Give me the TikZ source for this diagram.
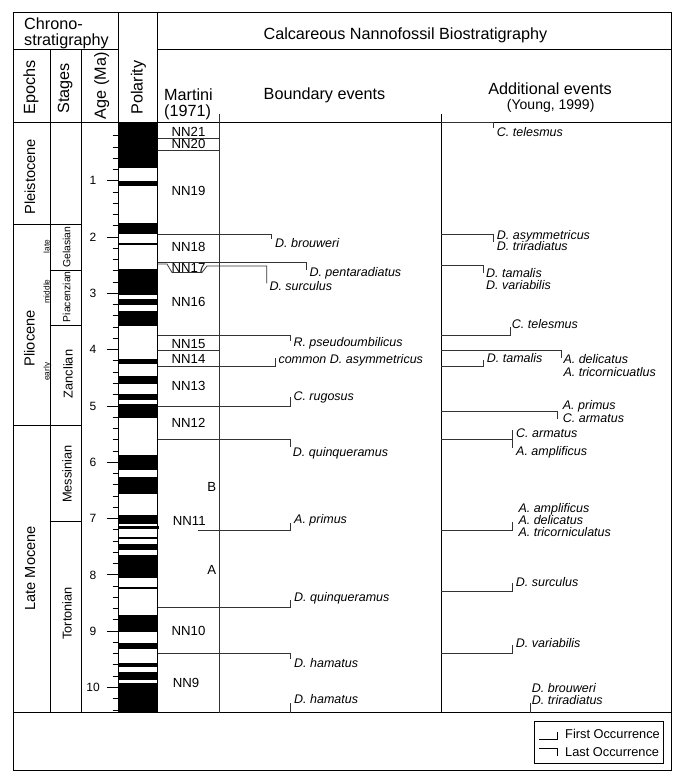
\documentclass[tikz,border=0pt]{standalone}
\usepackage{fontspec}
\setmainfont{Liberation Sans}
\begin{document}
\begin{tikzpicture}[x=1pt,y=-1pt,
  frame/.style={line width=1pt,black},
  evline/.style={line width=0.75pt,black!80},
  hdr/.style={font=\fontsize{16.2}{18}\selectfont,inner sep=0pt,text height=11.6pt,text depth=0pt},
  hdrs/.style={font=\fontsize{14}{16}\selectfont,inner sep=0pt,text height=10pt,text depth=0pt},
  epoch/.style={font=\fontsize{14.6}{16}\selectfont,inner sep=0pt,rotate=90,text height=10.4pt,text depth=0pt},
  stage/.style={font=\fontsize{12.8}{14}\selectfont,inner sep=0pt,rotate=90,text height=9.2pt,text depth=0pt},
  sstage/.style={font=\fontsize{10.4}{12}\selectfont,inner sep=0pt,rotate=90,text height=7.4pt,text depth=0pt},
  subep/.style={font=\fontsize{8.3}{10}\selectfont,inner sep=0pt,rotate=90,text height=6pt,text depth=0pt},
  zone/.style={font=\fontsize{13.2}{15}\selectfont,inner sep=0pt,text height=9.4pt,text depth=0pt},
  num/.style={font=\fontsize{12}{14}\selectfont,inner sep=0pt,text height=8.6pt,text depth=0pt},
  lab/.style={font=\fontsize{12.5}{14}\selectfont\itshape,inner sep=0pt,anchor=west,text height=9pt,text depth=0pt},
  leg/.style={font=\fontsize{12.8}{14}\selectfont,inner sep=0pt,anchor=west,text height=9.2pt,text depth=0pt}
]
\useasboundingbox (0,0) rectangle (681,775);

% ---------- polarity bands ----------
\foreach \a/\b in {122.5/168.3,180.7/186,223.3/234,243.3/245.3,269/295,299/305,311/326,
  359.3/364,375.7/384,393.7/399.7,404/418.3,455.3/470,477.3/494,515/524,537.3/539.3,
  544/550,555/577.7,587.3/589,615/632.3,643.3/648.7,663.3/666.7,671.7/680,683.3/712.5}
  \fill[black] (118.3,\a) rectangle (157.7,\b);
\fill[black] (118.3,526) rectangle (159.3,528.7);

% ---------- frame ----------
\draw[frame] (13.3,12.3) rectangle (671.7,770.7);
\draw[frame] (13.3,50) -- (118.3,50);
\draw[frame] (157.7,50) -- (671.7,50);
\draw[frame] (13.3,122.5) -- (671.7,122.5);
\draw[frame] (13.3,712.5) -- (671.7,712.5);
\draw[frame] (50.7,50) -- (50.7,712.5);
\draw[frame] (81.7,50) -- (81.7,712.5);
\draw[frame] (118.3,12.3) -- (118.3,712.5);
\draw[frame] (157.7,12.3) -- (157.7,712.5);
\draw[evline] (219,114) -- (219,712.5);
\draw[frame] (441,114) -- (441,712.5);
% epoch / stage boundaries
\draw[frame] (13.3,225) -- (81.7,225);
\draw[frame] (13.3,425) -- (81.7,425);
\draw[frame] (50.7,270) -- (81.7,270);
\draw[frame] (50.7,325) -- (81.7,325);
\draw[frame] (50.7,521) -- (81.7,521);

% ---------- headers ----------
\node[hdr,anchor=west] (chr1) at (24,24) {Chrono-};
\node[hdr,anchor=west] (chr2) at (24,39.3) {stratigraphy};
\node[hdr,rotate=90] (hEp) at (29.3,87.5) {Epochs};
\node[hdr,rotate=90] (hSt) at (63.3,88.3) {Stages};
\node[hdr,rotate=90] (hAge) at (100,85.8) {Age (Ma)};
\node[hdr,rotate=90] (hPol) at (136.7,87.5) {Polarity};
\node[hdr] (hCal) at (405.4,33.6) {Calcareous Nannofossil Biostratigraphy};
\node[hdr,anchor=west] (hMar) at (164,94.6) {Martini};
\node[hdr,anchor=west] (hMarY) at (164,111) {(1971)};
\node[hdr] (hBnd) at (324.5,93.3) {Boundary events};
\node[hdr] (hAdd) at (550,89) {Additional events};
\node[hdrs] (hYou) at (550.7,104.7) {(Young, 1999)};

% ---------- epochs and stages ----------
\node[epoch] (ePle) at (30,176.7) {Pleistocene};
\node[epoch] (ePli) at (29.5,338.3) {Pliocene};
\node[epoch] (eLM) at (30,568.3) {Late Mocene};
\node[subep] (sLate) at (46.7,246.7) {late};
\node[subep] (sMid) at (46.7,291.7) {middle};
\node[subep] (sEarly) at (46.7,371.7) {early};
\node[sstage] (stGel) at (66.7,247.3) {Gelasian};
\node[sstage] (stPia) at (66.7,296.7) {Piacenzian};
\node[stage] (stZan) at (68,374) {Zanclian};
\node[stage] (stMes) at (67,474) {Messinian};
\node[stage] (stTor) at (67,613.3) {Tortonian};

% ---------- age scale ----------
\foreach \i in {1,...,52}{
  \pgfmathsetmacro\yy{124.4+11.26*\i}
  \pgfmathtruncatemacro\m{mod(\i,5)}
  \ifnum\m=0
    \draw[line width=0.8pt] (106.7,\yy) -- (118.3,\yy);
  \else
    \draw[line width=0.8pt] (112.7,\yy) -- (118.3,\yy);
  \fi
}
\foreach \k in {1,...,10}
  \node[num] (age\k) at (93,{124.4+56.3*\k}) {\k};

% ---------- Martini zones ----------
\node[zone] (z21) at (188.5,131.7) {NN21};
\node[zone] (z20) at (188.5,144.3) {NN20};
\node[zone] (z19) at (188.5,191) {NN19};
\node[zone] (z18) at (188.5,247.3) {NN18};
\node[zone] (z17) at (188.5,268) {NN17};
\node[zone] (z16) at (188.5,301.7) {NN16};
\node[zone] (z15) at (188.5,343.3) {NN15};
\node[zone] (z14) at (188.5,358.3) {NN14};
\node[zone] (z13) at (188.5,386) {NN13};
\node[zone] (z12) at (188.5,422.7) {NN12};
\node[zone] (zB) at (211.7,486.7) {B};
\node[zone] (z11) at (189.3,520.7) {NN11};
\node[zone] (zA) at (211.7,570) {A};
\node[zone] (z10) at (188.5,631) {NN10};
\node[zone] (z9) at (186,682.3) {NN9};

% ---------- boundary events ----------
\draw[evline] (157.7,138.3) -- (219,138.3);
\draw[evline] (157.7,150) -- (219,150);
\draw[evline] (157.7,234.3) -- (271.7,234.3) -- (271.7,239.5);
\draw[evline] (157.7,262) -- (306.7,262) -- (306.7,269.5);
\draw[evline] (157.7,264) -- (167,264) -- (172,272.5) -- (202,272.5) -- (207,266) -- (266.7,266) -- (266.7,283.3);
\draw[evline] (157.7,335.7) -- (290,335.7) -- (290,340.5);
\draw[evline] (157.7,350) -- (219,350);
\draw[evline] (157.7,366) -- (275,366) -- (275,358.3);
\draw[evline] (157.7,406) -- (290,406) -- (290,397.3);
\draw[evline] (157.7,439.3) -- (290,439.3) -- (290,446.7);
\draw[evline] (198.3,530) -- (290,530) -- (290,523.3);
\draw[evline] (157.7,607.3) -- (290,607.3) -- (290,600);
\draw[evline] (157.7,653.3) -- (290,653.3) -- (290,659.3);
\draw[evline] (290,712.5) -- (290,703.3);

\node[lab] (b1) at (275,242.7) {D. brouweri};
\node[lab] (b2) at (309.3,271.7) {D. pentaradiatus};
\node[lab] (b3) at (269.3,285.7) {D. surculus};
\node[lab] (b4) at (293.3,342.3) {R. pseudoumbilicus};
\node[lab] (b5) at (278.3,358.7) {common D. asymmetricus};
\node[lab] (b6) at (293.3,395.7) {C. rugosus};
\node[lab] (b7) at (292.7,451.7) {D. quinqueramus};
\node[lab] (b8) at (294,519) {A. primus};
\node[lab] (b9) at (294,597.3) {D. quinqueramus};
\node[lab] (b10) at (294,663.3) {D. hamatus};
\node[lab] (b11) at (294,699.3) {D. hamatus};

% ---------- additional events ----------
\draw[evline] (441,122.5) -- (493.3,122.5) -- (493.3,128);
\draw[evline] (441,234.3) -- (493.3,234.3) -- (493.3,241.7);
\draw[evline] (441,265.7) -- (483.3,265.7) -- (483.3,273.3);
\draw[evline] (441,335.7) -- (510,335.7) -- (510,327.3);
\draw[evline] (441,350) -- (561,350) -- (561,358.3);
\draw[evline] (441,366) -- (483.3,366) -- (483.3,360);
\draw[evline] (441,411.7) -- (557.7,411.7) -- (557.7,418.5);
\draw[evline] (441,439.3) -- (512.3,439.3);
\draw[evline] (512.3,430) -- (512.3,448.3);
\draw[evline] (441,530) -- (512.3,530) -- (512.3,521.7);
\draw[evline] (441,591.7) -- (512.3,591.7) -- (512.3,583.3);
\draw[evline] (441,653.3) -- (512.3,653.3) -- (512.3,645);
\draw[evline] (530,712.5) -- (530,703.3);

\node[lab] (a1) at (496.7,132.3) {C. telesmus};
\node[lab] (a2) at (496.7,235) {D. asymmetricus};
\node[lab] (a3) at (496.7,246.3) {D. triradiatus};
\node[lab] (a4) at (486,273.3) {D. tamalis};
\node[lab] (a5) at (486,284.6) {D. variabilis};
\node[lab] (a6) at (511.7,324) {C. telesmus};
\node[lab] (a7) at (563.3,359.3) {A. delicatus};
\node[lab] (a8) at (563.3,372) {A. tricornicuatlus};
\node[lab] (a9) at (486.7,358.3) {D. tamalis};
\node[lab] (a10) at (562.7,405) {A. primus};
\node[lab] (a11) at (562.7,417.5) {C. armatus};
\node[lab] (a12) at (516,432.7) {C. armatus};
\node[lab] (a13) at (516,450.7) {A. amplificus};
\node[lab] (a14) at (518.3,508) {A. amplificus};
\node[lab] (a15) at (518.3,520) {A. delicatus};
\node[lab] (a16) at (518.3,532) {A. tricorniculatus};
\node[lab] (a17) at (515.7,582.3) {D. surculus};
\node[lab] (a18) at (515.7,642.7) {D. variabilis};
\node[lab] (a19) at (531.7,688) {D. brouweri};
\node[lab] (a20) at (531.7,700.3) {D. triradiatus};

% ---------- legend ----------
\draw[frame] (534,721) rectangle (663.3,763.3);
\draw[line width=1.5pt] (539.3,739.3) -- (557.7,739.3) -- (557.7,731.7);
\draw[line width=1.5pt] (539.3,748.3) -- (557.7,748.3) -- (557.7,756);
\node[leg] (lFO) at (565,734.3) {First Occurrence};
\node[leg] (lLO) at (565,752.3) {Last Occurrence};
\end{tikzpicture}
\end{document}
